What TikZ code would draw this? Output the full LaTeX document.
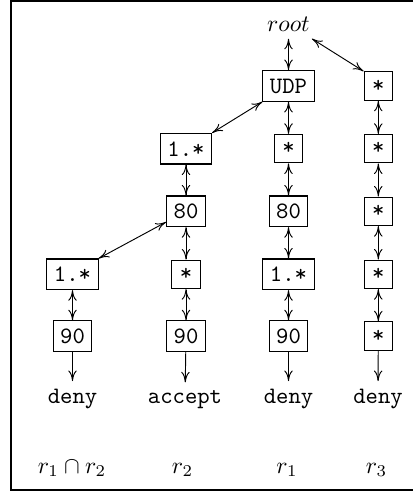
\documentclass[tikz,border=0pt]{standalone}
\usetikzlibrary{arrows.meta}
\begin{document}
\begin{tikzpicture}[x=0.425pt,y=-0.425pt,
  bx/.style={draw,inner sep=3pt,minimum height=13pt,font=\ttfamily,line width=0.45pt},
  sbx/.style={bx,minimum height=12.1pt,minimum width=12.1pt},
  lbl/.style={inner sep=3pt,font=\ttfamily},
  tip/.tip={To[length=4.5pt,width=3.6pt]},
  conn/.style={line width=0.4pt,tip-tip},
  conn1/.style={line width=0.4pt,-tip}]
\useasboundingbox (0,0) rectangle (412,493);
\draw[line width=0.95pt] (430,0.7) -- (11,0.7) -- (11,490.3) -- (430,490.3);
% root
\node[inner sep=3pt] (root) at (288.5,24) {$root$};
% column 4
\node[sbx] (d1) at (378.3,86) {*};
\node[sbx] (d2) at (378.3,148.7) {*};
\node[sbx] (d3) at (378.3,211.3) {*};
\node[sbx] (d4) at (378.3,274.3) {*};
\node[sbx] (d5) at (378.3,336.2) {*};
\node[lbl,anchor=base] (d6) at (378,403) {deny};
% column 3
\node[bx] (c1) at (288.5,86) {UDP};
\node[sbx] (c2) at (288.5,148.7) {*};
\node[bx] (c3) at (288.5,211.3) {80};
\node[bx] (c4) at (288.5,274.3) {1.*};
\node[bx] (c5) at (288.5,336.2) {90};
\node[lbl,anchor=base] (c6) at (288.5,403) {deny};
% column 2
\node[bx] (b2) at (186,148.7) {1.*};
\node[bx] (b3) at (186,211.3) {80};
\node[sbx] (b4) at (186,274.3) {*};
\node[bx] (b5) at (186,336.2) {90};
\node[lbl,anchor=base] (b6) at (185,403) {accept};
% column 1
\node[bx] (a4) at (72.5,274.3) {1.*};
\node[bx] (a5) at (72.5,336.2) {90};
\node[lbl,anchor=base] (a6) at (72.5,403) {deny};
% labels
\node[anchor=base] (la) at (72,473) {$r_1\cap r_2$};
\node[anchor=base] (lb) at (182.5,473) {$r_2$};
\node[anchor=base] (lc) at (287,473) {$r_1$};
\node[anchor=base] (ld) at (376.5,473) {$r_3$};
% connectors
\draw[conn] (root) -- (c1);
\draw[conn] (root) -- (d1.north west);
\draw[conn] (c1.south west) -- (b2.north east);
\draw[conn] (a4.north east) -- (b3);
\draw[conn] (c1) -- (c2);
\draw[conn] (c2) -- (c3);
\draw[conn] (c3) -- (c4);
\draw[conn] (c4) -- (c5);
\draw[conn1] (c5) -- (c6);
\draw[conn] (d1) -- (d2);
\draw[conn] (d2) -- (d3);
\draw[conn] (d3) -- (d4);
\draw[conn] (d4) -- (d5);
\draw[conn1] (d5) -- (d6);
\draw[conn] (b2) -- (b3);
\draw[conn] (b3) -- (b4);
\draw[conn] (b4) -- (b5);
\draw[conn1] (b5) -- (b6);
\draw[conn] (a4) -- (a5);
\draw[conn1] (a5) -- (a6);
\end{tikzpicture}
\end{document}
